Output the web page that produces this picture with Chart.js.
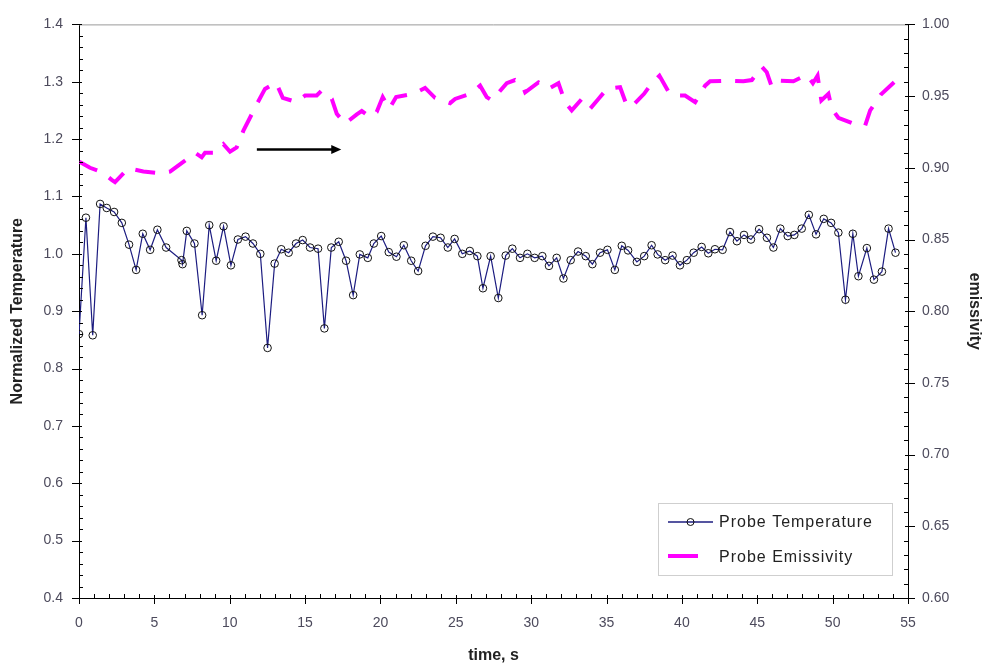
<!DOCTYPE html>
<html>
<head>
<meta charset="utf-8">
<title>Probe Temperature / Emissivity</title>
<script src="https://cdn.jsdelivr.net/npm/chart.js@4.4.1/dist/chart.umd.min.js"></script>
<style>
  html, body { margin: 0; padding: 0; background: #fff; }
  #wrap { width: 988px; height: 670px; }
</style>
</head>
<body>
<div id="wrap"><canvas id="chart" width="988" height="670"></canvas></div>
<script>
// ------------------------------------------------------------
// data
// ------------------------------------------------------------
const tempTime = [
  0, 0.46, 0.91, 1.40, 1.84, 2.33, 2.84, 3.32, 3.79, 4.23, 4.72, 5.20, 5.78, 6.80, 6.87,
  7.15, 7.66, 8.17, 8.64, 9.10, 9.59, 10.08, 10.54, 11.05, 11.54, 12.03, 12.51, 12.98,
  13.42, 13.91, 14.40, 14.84, 15.33, 15.86, 16.28, 16.74, 17.23, 17.72, 18.19, 18.63,
  19.16, 19.56, 20.05, 20.55, 21.06, 21.55, 22.04, 22.50, 22.99, 23.48, 23.99, 24.47,
  24.92, 25.43, 25.93, 26.43, 26.80, 27.31, 27.82, 28.31, 28.75, 29.26, 29.75, 30.23,
  30.74, 31.18, 31.69, 32.14, 32.62, 33.11, 33.62, 34.06, 34.57, 35.06, 35.55, 36.01,
  36.43, 37.01, 37.50, 37.99, 38.39, 38.89, 39.38, 39.87, 40.33, 40.78, 41.31, 41.75,
  42.19, 42.70, 43.19, 43.65, 44.12, 44.58, 45.12, 45.64, 46.07, 46.53, 47.02, 47.46,
  47.95, 48.42, 48.90, 49.41, 49.90, 50.38, 50.85, 51.34, 51.71, 52.27, 52.74, 53.27,
  53.71, 54.17
];
const tempValues = [
  0.860, 1.063, 0.858, 1.087, 1.080, 1.073, 1.054, 1.016, 0.972, 1.035, 1.007, 1.042, 1.011, 0.989, 0.982,
  1.040, 1.018, 0.893, 1.050, 0.988, 1.048, 0.980, 1.025, 1.030, 1.018, 1.000, 0.836, 0.983,
  1.008, 1.002, 1.018, 1.024, 1.011, 1.009, 0.870, 1.011, 1.021, 0.988, 0.928, 0.999,
  0.993, 1.018, 1.031, 1.003, 0.995, 1.015, 0.988, 0.970, 1.014, 1.030, 1.028, 1.011,
  1.026, 1.000, 1.005, 0.996, 0.940, 0.996, 0.923, 0.997, 1.009, 0.993, 1.000, 0.993,
  0.996, 0.979, 0.993, 0.957, 0.989, 1.004, 0.996, 0.982, 1.002, 1.007, 0.972, 1.014,
  1.006, 0.986, 0.996, 1.015, 0.999, 0.989, 0.997, 0.980, 0.989, 1.002, 1.012, 1.001,
  1.008, 1.007, 1.038, 1.022, 1.033, 1.025, 1.043, 1.028, 1.011, 1.044, 1.031, 1.033,
  1.044, 1.068, 1.034, 1.061, 1.054, 1.037, 0.920, 1.035, 0.961, 1.010, 0.955, 0.969,
  1.044, 1.002
];

const emisTime = [
  0.02, 0.73, 1.57, 2.17, 2.39, 3.27, 4.27, 5.38, 6.04, 7.03, 7.70, 8.14, 8.36, 9.02,
  9.58, 10.02, 10.46, 10.90, 11.79, 12.34, 13.07, 13.52, 14.45, 15.00, 15.77, 16.10,
  16.77, 17.10, 17.65, 18.43, 18.76, 19.31, 19.75, 20.15, 20.59, 21.04, 22.18, 22.96,
  23.62, 24.62, 24.95, 25.95, 26.61, 27.05, 27.39, 28.38, 28.93, 29.38, 29.60, 30.48,
  31.14, 31.81, 32.25, 32.69, 33.36, 33.91, 34.46, 35.02, 35.90, 36.34, 36.68, 37.49,
  38.00, 38.51, 39.17, 39.55, 40.21, 40.88, 41.54, 41.87, 43.09, 44.08, 44.64, 45.30,
  45.63, 45.97, 46.52, 47.40, 48.29, 48.69, 49.00, 49.25, 49.72, 49.95, 50.38, 51.49,
  52.16, 52.49, 53.20, 54.08
];
const emisValues = [
  0.9043, 0.9000, 0.8967, 0.8916, 0.8900, 0.8997, 0.8974, 0.8962, 0.8974, 0.9050, 0.9105, 0.9073, 0.9105, 0.9105,
  0.9165, 0.9112, 0.9142, 0.9257, 0.9442, 0.9550, 0.9596, 0.9488, 0.9458, 0.9504, 0.9504, 0.9539,
  0.9480, 0.9377, 0.9308, 0.9373, 0.9396, 0.9354, 0.9389, 0.9493, 0.9412, 0.9493, 0.9516, 0.9557,
  0.9488, 0.9451, 0.9480, 0.9516, 0.9573, 0.9493, 0.9470, 0.9590, 0.9612, 0.9585, 0.9527, 0.9596,
  0.9550, 0.9590, 0.9458, 0.9400, 0.9480, 0.9412, 0.9480, 0.9550, 0.9562, 0.9435, 0.9428, 0.9516,
  0.9590, 0.9642, 0.9520, 0.9504, 0.9504, 0.9458, 0.9573, 0.9603, 0.9608, 0.9603, 0.9612, 0.9705,
  0.9666, 0.9562, 0.9608, 0.9603, 0.9649, 0.9590, 0.9642, 0.9470, 0.9516, 0.9412, 0.9349, 0.9303,
  0.9296, 0.9400, 0.9511, 0.9596
];

// axes
const xRange  = [0, 55];
const xStep   = 5;
const yRange  = [0.4, 1.4];
const yStep   = 0.1;
const y2Range = [0.6, 1.0];
const y2Step  = 0.05;

// black arrow annotation, in data units (time, normalized temperature)
const arrowFrom = [11.8, 1.182];
const arrowTo   = [17.4, 1.182];

const FONT = "'Liberation Sans', Arial, sans-serif";
const TICK_COLOR = '#4c4a5c';
const TEMP_LINE = '#1c1c80';
const EMIS_LINE = '#ff00ff';

// ------------------------------------------------------------
// plugins
// ------------------------------------------------------------

// Excel-like axis ticks: majors cross the axis, minors point inward
const axisTicks = {
  id: 'axisTicks',
  afterDraw(chart) {
    const { ctx, chartArea: a, scales: { x, y, y2 } } = chart;
    ctx.save();
    // top frame line
    ctx.strokeStyle = '#9a9a9a';
    ctx.lineWidth = 1;
    ctx.beginPath();
    ctx.moveTo(a.left, a.top + 0.5);
    ctx.lineTo(a.right, a.top + 0.5);
    ctx.stroke();

    ctx.strokeStyle = '#000';
    ctx.beginPath();
    // left axis, minor every 0.02
    for (let i = 0; i <= 50; i++) {
      const py = Math.round(y.getPixelForValue(yRange[0] + i * 0.02)) + 0.5;
      const major = i % 5 === 0;
      ctx.moveTo(a.left - (major ? 7 : 0), py);
      ctx.lineTo(a.left + (major ? 3 : 4), py);
    }
    // right axis, minor every 0.01
    for (let i = 0; i <= 40; i++) {
      const py = Math.round(y2.getPixelForValue(y2Range[0] + i * 0.01)) + 0.5;
      const major = i % 5 === 0;
      ctx.moveTo(a.right + (major ? 7 : 0), py);
      ctx.lineTo(a.right - (major ? 3 : 4), py);
    }
    // bottom axis, minor every 1 s
    for (let i = 0; i <= 55; i++) {
      const px = Math.round(x.getPixelForValue(i)) + 0.5;
      const major = i % 5 === 0;
      ctx.moveTo(px, a.bottom + (major ? 6 : 0));
      ctx.lineTo(px, a.bottom - (major ? 3 : 4));
    }
    ctx.stroke();
    ctx.restore();
  }
};

const arrow = {
  id: 'arrow',
  afterDatasetsDraw(chart) {
    const { ctx, scales: { x, y } } = chart;
    const x0 = x.getPixelForValue(arrowFrom[0]), y0 = y.getPixelForValue(arrowFrom[1]);
    const x1 = x.getPixelForValue(arrowTo[0]),   y1 = y.getPixelForValue(arrowTo[1]);
    ctx.save();
    ctx.strokeStyle = '#000';
    ctx.fillStyle = '#000';
    ctx.lineWidth = 2.5;
    ctx.beginPath();
    ctx.moveTo(x0, y0);
    ctx.lineTo(x1 - 8, y1);
    ctx.stroke();
    ctx.beginPath();
    ctx.moveTo(x1, y1);
    ctx.lineTo(x1 - 10, y1 - 4.5);
    ctx.lineTo(x1 - 10, y1 + 4.5);
    ctx.closePath();
    ctx.fill();
    ctx.restore();
  }
};

// boxed legend inside the plot, bottom right
const boxLegend = {
  id: 'boxLegend',
  afterDraw(chart) {
    const { ctx } = chart;
    const bx = 658, by = 503, bw = 234, bh = 72;
    ctx.save();
    ctx.fillStyle = '#fff';
    ctx.fillRect(bx, by, bw, bh);
    ctx.strokeStyle = '#cfcfcf';
    ctx.lineWidth = 1;
    ctx.strokeRect(bx + 0.5, by + 0.5, bw, bh);

    // temperature entry
    ctx.strokeStyle = TEMP_LINE;
    ctx.lineWidth = 1.5;
    ctx.beginPath();
    ctx.moveTo(668, 522);
    ctx.lineTo(713, 522);
    ctx.stroke();
    ctx.strokeStyle = '#111';
    ctx.lineWidth = 1;
    ctx.beginPath();
    ctx.arc(690.5, 522, 3.5, 0, Math.PI * 2);
    ctx.stroke();

    // emissivity entry
    ctx.strokeStyle = EMIS_LINE;
    ctx.lineWidth = 4;
    ctx.beginPath();
    ctx.moveTo(668, 556);
    ctx.lineTo(698, 556);
    ctx.stroke();

    ctx.fillStyle = '#222';
    ctx.font = '16px ' + FONT;
    ctx.textBaseline = 'middle';
    ctx.letterSpacing = '1px';
    ctx.fillText('Probe Temperature', 719, 523);
    ctx.fillText('Probe Emissivity', 719, 558);
    ctx.restore();
  }
};

// ------------------------------------------------------------
// chart
// ------------------------------------------------------------
const tempPoints = tempTime.map((t, i) => ({ x: t, y: tempValues[i] }));
const emisPoints = emisTime.map((t, i) => ({ x: t, y: emisValues[i] }));

const tickFont = { family: FONT, size: 14 };
const titleFont = { family: FONT, size: 16, weight: 'bold' };

new Chart(document.getElementById('chart'), {
  type: 'line',
  data: {
    datasets: [
      {
        label: 'Probe Temperature',
        data: tempPoints,
        yAxisID: 'y',
        borderColor: TEMP_LINE,
        borderWidth: 1.2,
        pointRadius: 3.8,
        pointBorderColor: '#111',
        pointBorderWidth: 1,
        pointBackgroundColor: 'rgba(255,255,255,0)',
        tension: 0,
      },
      {
        label: 'Probe Emissivity',
        data: emisPoints,
        yAxisID: 'y2',
        borderColor: EMIS_LINE,
        borderWidth: 4,
        borderDash: [20, 14],
        borderCapStyle: 'butt',
        pointRadius: 0,
        tension: 0,
      },
    ],
  },
  options: {
    responsive: false,
    animation: false,
    devicePixelRatio: 1,
    layout: { padding: { top: 20, left: 0, right: 0, bottom: 0 } },
    plugins: {
      legend: { display: false },
      tooltip: { enabled: false },
    },
    scales: {
      x: {
        type: 'linear',
        min: xRange[0],
        max: xRange[1],
        grid: { display: false, drawTicks: false },
        border: { display: true, color: '#000', width: 1 },
        ticks: { stepSize: xStep, font: tickFont, color: TICK_COLOR, padding: 17, maxRotation: 0 },
        title: { display: true, text: 'time, s', font: titleFont, color: '#222', padding: { top: 0, bottom: 5 } },
        afterFit: s => { s.height = 72; },
      },
      y: {
        position: 'left',
        min: yRange[0],
        max: yRange[1],
        grid: { display: false, drawTicks: false },
        border: { display: true, color: '#000', width: 1 },
        ticks: { stepSize: yStep, font: tickFont, color: TICK_COLOR, padding: 16, callback: v => v.toFixed(1) },
        title: { display: true, text: 'Normalized Temperature', font: titleFont, color: '#222', padding: { top: 8, bottom: 0 } },
        afterFit: s => { s.width = 79; },
      },
      y2: {
        position: 'right',
        min: y2Range[0],
        max: y2Range[1],
        grid: { display: false, drawTicks: false },
        border: { display: true, color: '#000', width: 1 },
        ticks: { stepSize: y2Step, font: tickFont, color: TICK_COLOR, padding: 14, callback: v => v.toFixed(2) },
        title: { display: true, text: 'emissivity', font: titleFont, color: '#222', padding: { top: 4, bottom: 0 } },
        afterFit: s => { s.width = 80; },
      },
    },
  },
  plugins: [axisTicks, arrow, boxLegend],
});
</script>
</body>
</html>
